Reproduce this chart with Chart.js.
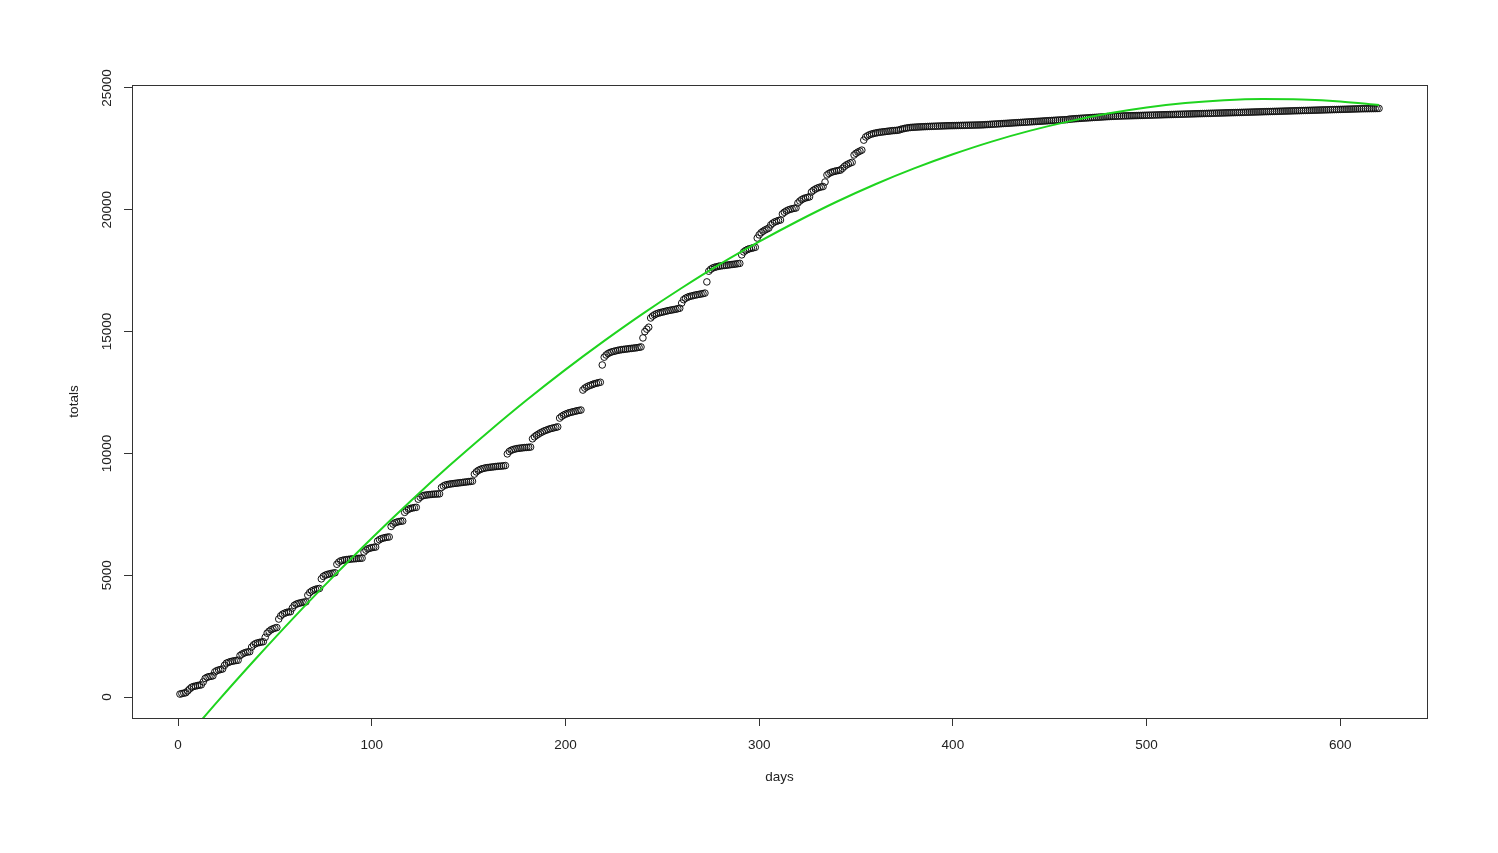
<!DOCTYPE html>
<html>
<head>
<meta charset="utf-8">
<title>totals vs days</title>
<script src="https://cdn.jsdelivr.net/npm/chart.js@4.4.1/dist/chart.umd.min.js"></script>
<style>
    html, body { margin: 0; padding: 0; background: #fff; }
    #chart { display: block; }
</style>
</head>
<body>
<canvas id="chart" width="1498" height="853"></canvas>
<script>
// Valores (um valor por dia, dias 1..620)
const totals = [
    // dias 1-95
    120, 140, 160, 175, 250, 330,
    400, 430, 450, 470, 485, 500, 620, 760,
    810, 835, 850, 870,
    1030, 1080, 1110, 1130, 1150, 1300,
    1390, 1420, 1450, 1470, 1485, 1500, 1510,
    1700, 1760, 1800, 1830, 1850, 1860,
    2050, 2140, 2190, 2220, 2240, 2255, 2270, 2450,
    2620, 2700, 2760, 2800, 2830, 2850,
    3200, 3330, 3400, 3440, 3470, 3490, 3500, 3650,
    3760, 3810, 3840, 3860, 3880, 3895, 3905,
    4180, 4290, 4350, 4390, 4420, 4440, 4455,
    4850, 4950, 5000, 5030, 5050, 5070, 5085, 5100,
    5450, 5540, 5590, 5610, 5630, 5640, 5650, 5660, 5670, 5675, 5680, 5690, 5695, 5700,
    // dias 96-218
    5950, 6030, 6080, 6110, 6130, 6145, 6155,
    6400, 6460, 6500, 6525, 6545, 6560, 6570,
    7000, 7100, 7150, 7180, 7200, 7215, 7225,
    7580, 7660, 7710, 7740, 7760, 7775, 7785,
    8120, 8200, 8250, 8275, 8290, 8300, 8310, 8318, 8325, 8330, 8335, 8340,
    8600, 8660, 8700, 8720, 8735, 8750, 8760, 8770, 8780, 8790, 8800, 8810, 8820, 8830, 8840, 8850, 8860,
    9150, 9240, 9300, 9340, 9370, 9390, 9410, 9420, 9430, 9440, 9450, 9460, 9470, 9475, 9480, 9490, 9500,
    9980, 10080, 10130, 10160, 10180, 10200, 10210, 10220, 10230, 10240, 10245, 10250, 10260,
    10600, 10680, 10740, 10790, 10840, 10880, 10920, 10950, 10980, 11010, 11030, 11050, 11070, 11090,
    11450, 11520, 11570, 11610, 11640, 11670, 11690, 11710, 11730, 11750, 11765, 11780,
    12600, 12680, 12730, 12770, 12800, 12830, 12860, 12880, 12900, 12920,
    // dias 219-354
    13630,
    13950, 14040, 14100, 14140, 14170, 14190, 14210, 14230, 14245, 14260,
    14270, 14280, 14290, 14300, 14310, 14320, 14330, 14340, 14355, 14370,
    14740, 15000, 15100, 15180,
    15560, 15640, 15690, 15730, 15760, 15780, 15800, 15820, 15840, 15860, 15875, 15890, 15905, 15920, 15940, 15960,
    16170,
    16310, 16370, 16410, 16440, 16460, 16480, 16500, 16515, 16530, 16545, 16560, 16580,
    17040,
    17480, 17560, 17610, 17640, 17660, 17680, 17695, 17705, 17715, 17725, 17735, 17745, 17755, 17765, 17775, 17790, 17800,
    18150,
    18270, 18330, 18370, 18400, 18420, 18440, 18460,
    18840,
    18970, 19060, 19120, 19170, 19210, 19250,
    19380, 19450, 19500, 19530, 19560, 19580,
    19830, 19900, 19950, 19990, 20020, 20040, 20060, 20075,
    20280, 20360, 20420, 20460, 20490, 20510, 20530,
    20730, 20800, 20850, 20890, 20920, 20940, 20955,
    21140,
    21430, 21490, 21530, 21560, 21580, 21600, 21615, 21630,
    21700, 21780, 21840, 21880, 21920, 21950,
    22250, 22320, 22370, 22410, 22450,
    22860,
    // dias 355-459
    22990, 23040, 23080, 23110, 23130, 23150, 23165, 23180, 23190, 23200, 23210, 23220, 23230, 23240, 23250, 23255, 23262, 23270,
    23300, 23320, 23340, 23355, 23368, 23378, 23385, 23390, 23395, 23400,
    23404, 23408, 23412, 23416, 23420, 23423, 23426, 23429, 23432, 23435,
    23438, 23441, 23444, 23447, 23450, 23452, 23454, 23456, 23458, 23460,
    23462, 23464, 23466, 23468, 23470, 23472, 23474, 23476, 23478, 23480,
    23482, 23484, 23487,
    23490, 23496, 23501, 23506, 23511, 23516, 23521, 23526, 23531, 23536,
    23541, 23546, 23551, 23556, 23561, 23566, 23571, 23576, 23581, 23586,
    23591, 23596, 23601, 23606, 23611, 23616, 23621, 23626, 23631, 23636,
    23641, 23646, 23651, 23656, 23661, 23666, 23671, 23676, 23681, 23686,
    23690, 23694, 23698, 23702,
    // dias 460-620
    23720, 23726, 23732, 23738, 23744, 23750, 23756, 23761, 23766, 23771,
    23776, 23781, 23786, 23791, 23796, 23801, 23806, 23811, 23816, 23821,
    23826, 23830, 23834, 23838, 23842, 23845, 23848, 23851, 23854, 23856,
    23858, 23860,
    23862, 23864, 23867, 23869, 23872, 23874, 23876, 23879, 23881, 23884,
    23886, 23888, 23891, 23893, 23896, 23898, 23900, 23903, 23905, 23908,
    23910, 23912, 23915, 23917, 23920, 23922, 23924, 23927, 23929, 23932,
    23934, 23936, 23939, 23941, 23944, 23946, 23948, 23951, 23953, 23956,
    23958, 23960, 23963, 23965, 23968, 23970, 23972, 23975, 23977, 23980,
    23982, 23984, 23987, 23989, 23992, 23994, 23996, 23999, 24001, 24004,
    24006, 24008, 24011, 24013, 24016, 24018, 24020, 24023, 24025, 24028,
    24030, 24032, 24035, 24037, 24040, 24042, 24044, 24047, 24049, 24052,
    24054, 24056, 24059, 24061, 24064, 24066, 24068, 24071, 24073, 24076,
    24078, 24080, 24083, 24085, 24088, 24090, 24092, 24095, 24097, 24100,
    24102, 24104, 24107, 24109, 24112, 24114, 24116, 24119, 24121, 24124,
    24126, 24128, 24131, 24133, 24136, 24138, 24140, 24143, 24145, 24148,
    24150, 24151, 24152, 24153, 24154, 24155, 24156, 24158, 24160
];

// Curva ajustada (verde)
const fitDays = [1, 20, 40, 60, 80, 100, 120, 140, 160, 180, 200, 220, 240, 260, 280, 300,
    320, 340, 360, 380, 400, 420, 440, 460, 480, 500, 520, 540, 560, 580, 600, 620];
const fitValues = [-1980, -220, 1560, 3280, 4930, 6520, 8040, 9490, 10870, 12190, 13440, 14620, 15740, 16790, 17780, 18690,
    19540, 20330, 21050, 21700, 22280, 22800, 23250, 23630, 23950, 24200, 24380, 24500, 24550, 24530, 24450, 24300];

const xTicks = [0, 100, 200, 300, 400, 500, 600];
const yTicks = [0, 5000, 10000, 15000, 20000, 25000];

const days = totals.map((_, i) => i + 1);

const FONT = "'Liberation Sans', Arial, Helvetica, sans-serif";
const TEXT_COLOR = '#222';

// Moldura do gráfico (estilo R)
const plotBox = {
    id: 'plotBox',
    afterDraw(chart) {
        const { ctx, chartArea: a } = chart;
        ctx.save();
        ctx.strokeStyle = '#333';
        ctx.lineWidth = 1;
        ctx.strokeRect(Math.round(a.left) + 0.5, Math.round(a.top) + 0.5,
            Math.round(a.right - a.left), Math.round(a.bottom - a.top));
        ctx.restore();
    }
};

Chart.defaults.font.family = FONT;
Chart.defaults.font.size = 13.5;
Chart.defaults.color = TEXT_COLOR;
Chart.defaults.animation = false;

new Chart(document.getElementById('chart'), {
    type: 'scatter',
    data: {
        datasets: [
            {
                type: 'line',
                label: 'fit',
                data: fitDays.map((d, i) => ({ x: d, y: fitValues[i] })),
                borderColor: '#1fd41f',
                borderWidth: 2,
                pointRadius: 0,
                fill: false,
                cubicInterpolationMode: 'monotone'
            },
            {
                label: 'totals',
                data: days.map((d, i) => ({ x: d, y: totals[i] })),
                pointStyle: 'circle',
                pointRadius: 3.3,
                pointBorderWidth: 1,
                pointBackgroundColor: 'rgba(0,0,0,0)',
                pointBorderColor: '#111',
                showLine: false
            }
        ]
    },
    plugins: [plotBox],
    options: {
        responsive: false,
        maintainAspectRatio: false,
        events: [],
        layout: {
            padding: { left: 60, top: 85, right: 71, bottom: 68 }
        },
        plugins: {
            legend: { display: false },
            tooltip: { enabled: false }
        },
        scales: {
            x: {
                type: 'linear',
                min: -23.76,
                max: 644.76,
                afterBuildTicks: function(scale) {
                    scale.ticks = xTicks.map(v => ({ value: v }));
                },
                afterFit: function(scale) {
                    scale.height = 67;
                },
                ticks: {
                    padding: 11,
                    maxRotation: 0,
                    color: TEXT_COLOR,
                    callback: function(value) {
                        return String(value);
                    }
                },
                grid: {
                    drawOnChartArea: false,
                    drawTicks: true,
                    tickLength: 8,
                    color: '#333'
                },
                border: { display: false },
                title: {
                    display: true,
                    text: 'days',
                    color: TEXT_COLOR,
                    padding: { top: 0, bottom: 0 }
                }
            },
            y: {
                type: 'linear',
                min: -862,
                max: 25123,
                afterBuildTicks: function(scale) {
                    scale.ticks = yTicks.map(v => ({ value: v }));
                },
                afterFit: function(scale) {
                    scale.width = 72;
                },
                ticks: {
                    minRotation: 90,
                    maxRotation: 90,
                    crossAlign: 'center',
                    padding: -2,
                    color: TEXT_COLOR,
                    callback: function(value) {
                        return String(value);
                    }
                },
                grid: {
                    drawOnChartArea: false,
                    drawTicks: true,
                    tickLength: 8,
                    color: '#333'
                },
                border: { display: false },
                title: {
                    display: true,
                    text: 'totals',
                    color: TEXT_COLOR,
                    padding: { top: 6, bottom: 0 }
                }
            }
        }
    }
});
</script>
</body>
</html>
